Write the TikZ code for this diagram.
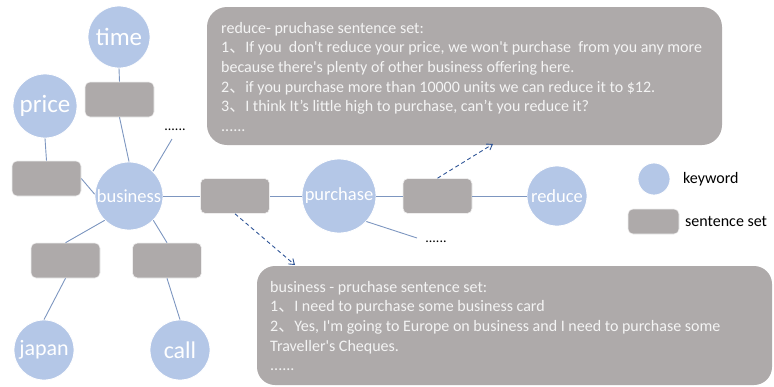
\documentclass[tikz,border=0pt]{standalone}
\usepackage{fontspec}
\setmainfont{Carlito}
\newfontfamily\carl{Carlito}
\newfontfamily\cjk{Noto Sans CJK SC}
\usetikzlibrary{arrows.meta}
\definecolor{kwblue}{HTML}{B4C7E7}
\definecolor{ssgray}{HTML}{AEAAAA}
\definecolor{linkblue}{RGB}{125,150,192}
\definecolor{arrowblue}{HTML}{2F5597}
\definecolor{boxtext}{HTML}{F4F4F4}
\newcommand{\dun}{{\cjk 、}}
\begin{document}
\begin{tikzpicture}[x=1pt,y=-1pt,
  kw/.style={circle,fill=kwblue,draw=white,line width=0.8pt,text=white,inner sep=0pt},
  sset/.style={rectangle,rounded corners=5pt,fill=ssgray,draw=white!80!ssgray,line width=0.6pt,minimum width=69pt,minimum height=35pt,inner sep=0pt},
  bigbox/.style={rectangle,fill=ssgray,inner sep=0pt},
  boxtxt/.style={anchor=north west,inner sep=0pt,text=boxtext,align=left,font=\carl\fontsize{16}{19.6}\selectfont},
  link/.style={draw=linkblue,line width=0.9pt},
  dlink/.style={draw=arrowblue,line width=0.9pt,dash pattern=on 4pt off 3pt,-{Straight Barb[length=5pt,width=7pt]}},
  dots/.style={inner sep=0pt,font=\fontsize{14}{16}\selectfont}
]
\useasboundingbox (0,0) rectangle (774,386);

% big text boxes
\node[bigbox,rounded corners=20pt,minimum width=515pt,minimum height=138pt] (topbox) at (464.5,76) {};
\node[boxtxt] (toptext) at (221,22) {reduce- pruchase sentence set:\\
1\dun If you \ don't reduce your price, we won't purchase \ from you any more\\
because there's plenty of other business offering here.\\
2\dun if you purchase more than 10000 units we can reduce it to \$12.\\
3\dun I think It’s little high to purchase, can’t you reduce it?\\
......};
\node[bigbox,rounded corners=18pt,minimum width=515pt,minimum height=119pt] (botbox) at (514.5,325.5) {};
\node[boxtxt] (bottext) at (270,281) {business - pruchase sentence set:\\
1\dun I need to purchase some business card\\
2\dun Yes, I'm going to Europe on business and I need to purchase some\\
Traveller's Cheques.\\
......};

% keyword circles
\node[kw,minimum size=62pt,font=\fontsize{25}{28}\selectfont] (time) at (119,37) {time};
\node[kw,minimum size=64pt,font=\fontsize{25}{28}\selectfont] (price) at (45,106) {price};
\node[kw,minimum size=68pt,font=\fontsize{18.5}{20}\selectfont] (business) at (129,196) {business};
\node[kw,minimum size=60pt,font=\fontsize{22}{24}\selectfont] (japan) at (44,350) {japan};
\node[kw,minimum size=60pt,font=\fontsize{24}{26}\selectfont] (call) at (180,350) {call};
\node[kw,minimum size=74pt,font=\fontsize{18.5}{20}\selectfont] (purchase) at (339,196) {purchase};
\node[kw,minimum size=60pt,font=\fontsize{18.5}{20}\selectfont] (reduce) at (557,196) {reduce};

% sentence sets
\node[sset] (timeR) at (119.5,99.5) {};
\node[sset] (priceR) at (46.5,178.5) {};
\node[sset] (bpR) at (235,196) {};
\node[sset] (japanR) at (65.5,260.5) {};
\node[sset] (callR) at (167,260.5) {};
\node[sset] (prR) at (437.5,196) {};

% dots
\node[dots] (dots1) at (175,130) {......};
\node[dots] (dots2) at (436,242) {......};
\coordinate (c1) at (172,139);
\coordinate (c2) at (417,238);
\coordinate (a1) at (295,265);
\coordinate (a2) at (493,144);

% links
\draw[link] (time.south) -- (timeR.north);
\draw[link] (timeR.south) -- (business.north);
\draw[link] (price.south) -- (priceR.north);
\draw[link] (priceR.east) -- (business.177);
\draw[link] (business.46) -- (c1);
\draw[link] (business.225) -- (japanR.north);
\draw[link] (japanR.south) -- (japan.north);
\draw[link] (business.315) -- (callR.north);
\draw[link] (callR.south) -- (call.north);
\draw[link] (business.east) -- (bpR.west);
\draw[link] (bpR.east) -- (purchase.west);
\draw[link] (purchase.east) -- (prR.west);
\draw[link] (prR.east) -- (reduce.west);
\draw[link] (purchase.-43) -- (c2);

% dashed arrows
\draw[dlink] (bpR.south) -- (a1);
\draw[dlink] (prR.north) -- (a2);

% legend
\node[kw,minimum size=32pt] (legkw) at (654,179) {};
\node[sset,minimum width=51pt,minimum height=25pt] (legss) at (653.5,221.5) {};
\node[anchor=west,inner sep=0pt,font=\fontsize{16}{18}\selectfont] (legkwt) at (683,179) {keyword};
\node[anchor=west,inner sep=0pt,font=\fontsize{16}{18}\selectfont] (legsst) at (685,221.5) {sentence set};
\end{tikzpicture}
\end{document}
